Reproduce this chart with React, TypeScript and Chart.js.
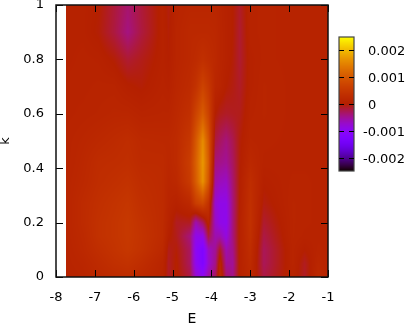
import React, { useEffect, useRef } from "react";
import { Chart, registerables } from "chart.js";

Chart.register(...registerables);

// Energy grid (columns) and momentum grid (rows)
const energies = [-7.73, -7.3, -6.9, -6.5, -6.15, -5.8, -5.25, -5.1, -4.9, -4.55, -4.4, -4.22, -4.08, -3.9, -3.78, -3.62, -3.45, -3.27, -3, -2.65, -1.9, -1.6, -1.25, -1];
const momenta = [0, 0.05, 0.1, 0.15, 0.2, 0.27, 0.35, 0.42, 0.5, 0.6, 0.7, 0.8, 0.9, 1];
// Values in units of 1e-3, one row per momentum
const row000 = [.08, .12, .2, .25, .28, .2, .1, -.12, .02, -.2, -.75, -.95, -.55, -.3, .25, -.35, -.45, .05, .2, -.22, .08, -.12, .2, .08];
const row005 = [.1, .15, .25, .35, .4, .3, .12, -.12, .02, -.3, -.95, -1.25, -.75, -.45, .15, -.5, -.5, .05, .25, -.28, .1, -.1, .15, .08];
const row010 = [.1, .2, .32, .42, .5, .4, .2, -.08, -.02, -.3, -1, -1.25, -.7, -.5, -.1, -.6, -.45, .05, .3, -.28, .1, 0, .1, .08];
const row015 = [.12, .22, .38, .45, .52, .42, .25, .02, -.08, -.4, -.9, -.9, -.2, -.6, -.6, -.85, -.4, .05, .35, -.22, .12, .08, .08, .08];
const row020 = [.12, .25, .38, .45, .52, .4, .25, .08, -.1, -.1, -.6, -.3, .1, -.7, -.9, -.95, -.4, .05, .38, -.15, .12, .1, .08, .08];
const row027 = [.12, .25, .35, .42, .48, .35, .25, .12, .05, .2, .6, .75, .4, -.75, -.9, -.9, -.4, .02, .35, -.05, .12, .1, .08, .08];
const row035 = [.12, .2, .3, .35, .4, .3, .25, .15, .2, .55, 1.05, 1.65, 1, -.55, -.65, -.7, -.35, 0, .3, .02, .1, .1, .08, .08];
const row042 = [.1, .18, .28, .3, .33, .25, .25, .18, .25, .6, 1.1, 1.7, 1.1, -.4, -.45, -.5, -.3, -.02, .2, .08, .08, .08, .08, .08];
const row050 = [.1, .15, .2, .25, .3, .22, .2, .2, .25, .5, 1, 1.6, 1, -.2, -.3, -.4, -.25, -.03, .12, .1, .08, .08, .08, .08];
const row060 = [.08, .1, .12, .15, .15, .1, .12, .12, .2, .35, .7, 1.05, .7, 0, -.08, -.12, -.1, -.08, .08, .12, .08, .08, .08, .08];
const row070 = [.08, .08, .1, .1, .02, -.02, .08, .05, .15, .25, .4, .7, .5, .15, .1, 0, -.05, -.12, .05, .12, .08, .08, .08, .08];
const row080 = [.05, .08, .06, -.02, -.16, -.08, .05, 0, .12, .2, .25, .35, .28, .2, .12, .05, -.02, -.15, .05, .1, .08, .08, .08, .08];
const row090 = [.05, .05, -.02, -.2, -.42, -.2, .05, -.02, .12, .2, .2, .2, .2, .18, .12, .05, 0, -.15, .08, .1, .08, .08, .08, .08];
const row100 = [.05, .05, 0, -.18, -.35, -.18, .05, -.05, .1, .15, .15, .15, .15, .15, .1, .05, 0, -.12, .08, .1, .08, .08, .08, .08];
const rows = [row000, row005, row010, row015, row020, row027, row035, row042, row050, row060, row070, row080, row090, row100];

const colorbarTicks = [0.002, 0.001, 0, -0.001, -0.002];
const colorRange = 0.0025;
const FONT = "'DejaVu Sans'";

// gnuplot rgbformulae 7,5,15
function palette(v: number): [number, number, number] {
  const x = Math.max(0, Math.min(1, (v + colorRange) / (2 * colorRange)));
  const b = Math.sin(2 * Math.PI * x);
  return [Math.sqrt(x) * 255, x * x * x * 255, Math.max(0, b) * 255];
}

function findCell(grid: number[], v: number) {
  let i = 0;
  while (i < grid.length - 2 && v > grid[i + 1]) i++;
  const t = (v - grid[i]) / (grid[i + 1] - grid[i]);
  return { i, t: Math.max(0, Math.min(1, t)) };
}

function sample(e: number, k: number) {
  const c = findCell(energies, e);
  const r = findCell(momenta, k);
  const a = rows[r.i][c.i] * (1 - c.t) + rows[r.i][c.i + 1] * c.t;
  const b = rows[r.i + 1][c.i] * (1 - c.t) + rows[r.i + 1][c.i + 1] * c.t;
  return (a * (1 - r.t) + b * r.t) * 1e-3;
}

const heatmapPlugin = {
  id: "heatmap",
  beforeDatasetsDraw(chart: any) {
    const { ctx, scales } = chart;
    const x0 = Math.round(scales.x.getPixelForValue(energies[0]));
    const x1 = Math.round(scales.x.getPixelForValue(energies[energies.length - 1]));
    const y0 = Math.round(scales.y.getPixelForValue(momenta[momenta.length - 1]));
    const y1 = Math.round(scales.y.getPixelForValue(momenta[0]));
    const w = x1 - x0;
    const h = y1 - y0;
    const off = document.createElement("canvas");
    off.width = w;
    off.height = h;
    const octx = off.getContext("2d")!;
    const img = octx.createImageData(w, h);
    for (let py = 0; py < h; py++) {
      const k = scales.y.getValueForPixel(y0 + py + 0.5);
      for (let px = 0; px < w; px++) {
        const e = scales.x.getValueForPixel(x0 + px + 0.5);
        const [r, g, b] = palette(sample(e, k));
        const o = (py * w + px) * 4;
        img.data[o] = r;
        img.data[o + 1] = g;
        img.data[o + 2] = b;
        img.data[o + 3] = 255;
      }
    }
    octx.putImageData(img, 0, 0);
    ctx.drawImage(off, x0, y0);
  },
  afterDatasetsDraw(chart: any) {
    const { ctx, scales, chartArea: a } = chart;
    ctx.save();
    // frame and inward ticks on all four sides
    ctx.strokeStyle = "#000";
    ctx.lineWidth = 1;
    ctx.beginPath();
    scales.x.ticks.forEach((t: any) => {
      const x = Math.round(scales.x.getPixelForValue(t.value)) + 0.5;
      ctx.moveTo(x, a.bottom);
      ctx.lineTo(x, a.bottom - 7);
      ctx.moveTo(x, a.top);
      ctx.lineTo(x, a.top + 7);
    });
    scales.y.ticks.forEach((t: any) => {
      const y = Math.round(scales.y.getPixelForValue(t.value)) + 0.5;
      ctx.moveTo(a.left, y);
      ctx.lineTo(a.left + 7, y);
      ctx.moveTo(a.right, y);
      ctx.lineTo(a.right - 7, y);
    });
    ctx.stroke();
    ctx.lineWidth = 1.5;
    ctx.strokeStyle = "#111";
    ctx.strokeRect(a.left, a.top, a.right - a.left, a.bottom - a.top);

    // colour bar
    const barL = 339, barR = 354, barT = 37, barB = 171;
    const toY = (v: number) => barT + ((colorRange - v) / (2 * colorRange)) * (barB - barT);
    for (let y = barT; y < barB; y++) {
      const v = colorRange - ((y + 0.5 - barT) / (barB - barT)) * 2 * colorRange;
      const [r, g, b] = palette(v);
      ctx.fillStyle = `rgb(${r | 0},${g | 0},${b | 0})`;
      ctx.fillRect(barL, y, barR - barL, 1);
    }
    ctx.strokeStyle = "#444";
    ctx.lineWidth = 1.2;
    ctx.strokeRect(barL, barT, barR - barL, barB - barT);
    ctx.strokeStyle = "#000";
    ctx.lineWidth = 1;
    ctx.fillStyle = "#000";
    ctx.font = `13px ${FONT}`;
    ctx.textBaseline = "middle";
    ctx.textAlign = "left";
    colorbarTicks.forEach((v) => {
      const y = Math.round(toY(v)) + 0.5;
      ctx.beginPath();
      ctx.moveTo(barL, y);
      ctx.lineTo(barL + 5, y);
      ctx.moveTo(barR, y);
      ctx.lineTo(barR - 5, y);
      ctx.stroke();
      ctx.fillText(String(v), v < 0 ? 363 : 368, y + 1);
    });
    ctx.restore();
  },
};

const zeroPadding = (s: any) => {
  s.paddingTop = 0;
  s.paddingBottom = 0;
  s.paddingLeft = 0;
  s.paddingRight = 0;
};

export default function App() {
  const ref = useRef<HTMLCanvasElement>(null);
  useEffect(() => {
    const points = momenta.flatMap((k, r) => energies.map((e, c) => ({ x: e, y: k, v: rows[r][c] })));
    const chart = new Chart(ref.current!, {
      type: "scatter",
      data: { datasets: [{ data: points, pointRadius: 0, showLine: false }] },
      plugins: [heatmapPlugin],
      options: {
        animation: false,
        responsive: false,
        layout: { padding: { top: 5, right: 79, left: 0, bottom: 0 } },
        plugins: { legend: { display: false }, tooltip: { enabled: false } },
        scales: {
          x: {
            type: "linear",
            min: -8,
            max: -1,
            afterFit: (s: any) => { s.height = 49; zeroPadding(s); },
            grid: { display: false, drawTicks: false },
            border: { display: false },
            ticks: { stepSize: 1, padding: 13, color: "#000", maxRotation: 0, autoSkip: false, font: { family: FONT, size: 13 }, callback: (v: any) => String(v) },
            title: { display: true, text: "E", color: "#000", font: { family: FONT, size: 14, lineHeight: 1 }, padding: { top: 0, bottom: 0 } },
          },
          y: {
            type: "linear",
            min: 0,
            max: 1,
            afterFit: (s: any) => { s.width = 56; zeroPadding(s); },
            grid: { display: false, drawTicks: false },
            border: { display: false },
            ticks: { stepSize: 0.2, padding: 12, color: "#000", autoSkip: false, font: { family: FONT, size: 13 }, callback: (v: any) => String(Number(Number(v).toFixed(1))) },
            title: { display: true, text: "k", color: "#000", font: { family: FONT, size: 13, lineHeight: 0.8 }, padding: { top: 0, bottom: 0 } },
          },
        },
      },
    });
    return () => chart.destroy();
  }, []);
  return (
    <div style={{ position: "absolute", left: 0, top: 0, width: 407, height: 326, background: "#fff" }}>
      <canvas ref={ref} width={407} height={326} style={{ display: "block" }} />
    </div>
  );
}
